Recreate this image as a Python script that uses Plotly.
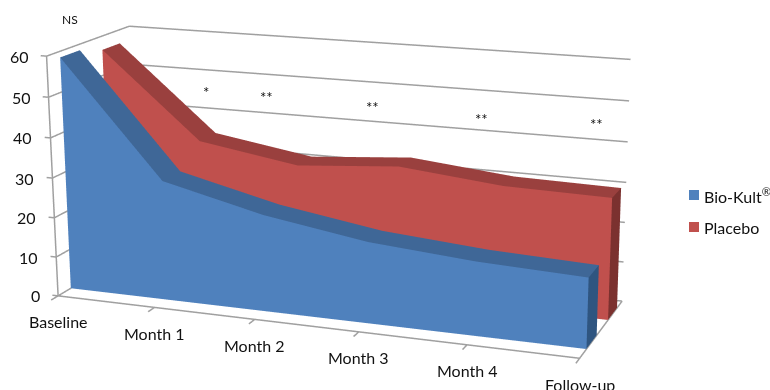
import numpy as np
import plotly.graph_objects as go

categories = ["Baseline", "Month 1", "Month 2", "Month 3", "Month 4", "Follow-up"]
bio_kult = [58.5, 30, 24, 20, 18, 17]
placebo = [56.5, 35, 31, 33, 30.5, 30]
value_ticks = [0, 10, 20, 30, 40, 50, 60]
signif_labels = ["NS", "*", "**", "**", "**", "**"]
legend_labels = ["Bio-Kult<sup>®</sup>", "Placebo"]

RX = (-0.1, 5.1); RY = (-0.1, 1.05); RZ = (-1, 61)
AZ, EL = 0.3432, 0.2662
CENTER = np.array([0.2900, -0.6059, 0.1619])
ASPECT = (0.8126, 0.2918, 0.3678)
DIST = 2.0
EYE = CENTER + DIST*np.array([np.sin(AZ)*np.cos(EL), -np.cos(AZ)*np.cos(EL), np.sin(EL)])

# The camera's field of view is fixed, so a larger canvas is centred on the window to flatten the perspective.
K = 4
W = 770*K; H = 390*K; OX = (W-770)/2; OY = (H-390)/2
def px(x): return (x+OX)/W
def py(y): return 1-(y+OY)/H

def area_mesh(vals, y0, y1, front, top, side, name):
    xs=[];ys=[];zs=[];I=[];J=[];K_=[];C=[]
    def quad(a,b,c,d,col):
        n=len(xs)
        for q in (a,b,c,d):
            xs.append(q[0]);ys.append(q[1]);zs.append(q[2])
        I.extend([n,n]);J.extend([n+1,n+2]);K_.extend([n+2,n+3]);C.extend([col,col])
    for i in range(len(vals)-1):
        quad((i,y0,0),(i+1,y0,0),(i+1,y0,vals[i+1]),(i,y0,vals[i]),front)
        quad((i,y0,vals[i]),(i+1,y0,vals[i+1]),(i+1,y1,vals[i+1]),(i,y1,vals[i]),top)
    n=len(vals)-1
    quad((n,y0,0),(n,y1,0),(n,y1,vals[n]),(n,y0,vals[n]),side)
    return go.Mesh3d(x=xs,y=ys,z=zs,i=I,j=J,k=K_,facecolor=C,flatshading=True,name=name,showlegend=False,hoverinfo="skip",
        lighting=dict(ambient=1,diffuse=0,specular=0,roughness=1,fresnel=0))

fig=go.Figure()
fig.add_trace(area_mesh(placebo,0.65,0.87,"#C0504D","#9A403E","#7B312F","Placebo"))
fig.add_trace(area_mesh(bio_kult,0.15,0.38,"#4F81BD","#3F6797","#2F5580","Bio-Kult®"))

GRID="#A0A0A0"
n=len(categories)-1
lx=[];ly=[];lz=[]
def seg(a,b):
    lx.extend([a[0],b[0],None]);ly.extend([a[1],b[1],None]);lz.extend([a[2],b[2],None])
for v in value_ticks:
    seg((0,0,v),(0,1,v)); seg((0,1,v),(n,1,v)); seg((0,0,v),(-0.06,0,v))
seg((0,0,0),(0,0,60)); seg((0,0,0),(n,0,0)); seg((n,0,0),(n,1,0))
for i in range(n+1):
    seg((i,0,0),(i,-0.08,0))
fig.add_trace(go.Scatter3d(x=lx,y=ly,z=lz,mode="lines",line=dict(color=GRID,width=3),showlegend=False,hoverinfo="skip"))

FONT="Lato"
ann3d=[]
for v in value_ticks:
    ann3d.append(dict(x=0,y=0,z=v,text=str(v),showarrow=False,xanchor="right",yanchor="middle",xshift=-16,font=dict(family=FONT,size=16,color="#111")))
for i,c_ in enumerate(categories):
    ann3d.append(dict(x=i,y=0,z=0,text=c_,showarrow=False,xanchor="center",yanchor="middle",yshift=-26,font=dict(family=FONT,size=16,color="#111")))

ann=[]
stars=[(70,20),(206,92),(266,97),(372,107),(481,119),(596,124)]
for t,(qx,qy) in zip(signif_labels,stars):
    ann.append(dict(x=px(qx),y=py(qy),xref="paper",yref="paper",xanchor="center",yanchor="middle",text=t,showarrow=False,font=dict(family=FONT,size=12 if t=="NS" else 15,color="#111")))
shapes=[]
for name,col,qy in zip(legend_labels,["#4F81BD","#C0504D"],[195,227]):
    shapes.append(dict(type="rect",xref="paper",yref="paper",x0=px(689),x1=px(699),y0=py(qy+5),y1=py(qy-5),fillcolor=col,line_width=0,layer="above"))
    ann.append(dict(x=px(702),y=py(qy),xref="paper",yref="paper",xanchor="left",yanchor="middle",text=name,showarrow=False,font=dict(family=FONT,size=16,color="#111")))

ax=dict(visible=False)
fig.update_layout(width=W,height=H,margin=dict(l=0,r=0,t=0,b=0),paper_bgcolor="white",showlegend=False,
    annotations=ann,shapes=shapes,
    scene=dict(domain=dict(x=[0,1],y=[0,1]),bgcolor="white",
      xaxis=dict(range=list(RX),**ax),yaxis=dict(range=list(RY),**ax),zaxis=dict(range=list(RZ),**ax),
      aspectmode="manual",aspectratio=dict(x=ASPECT[0],y=ASPECT[1],z=ASPECT[2]),
      camera=dict(eye=dict(x=float(EYE[0]),y=float(EYE[1]),z=float(EYE[2])),center=dict(x=float(CENTER[0]),y=float(CENTER[1]),z=float(CENTER[2])),up=dict(x=0,y=0,z=1),projection=dict(type="perspective")),
      annotations=ann3d))
fig.write_html("out.html",config=dict(displayModeBar=False),
  post_script=f"document.body.style.margin='0';document.documentElement.style.overflow='hidden';document.body.style.overflow='hidden';var g=document.getElementById('{{plot_id}}');g.style.position='absolute';g.style.left='{-OX}px';g.style.top='{-OY}px';")
